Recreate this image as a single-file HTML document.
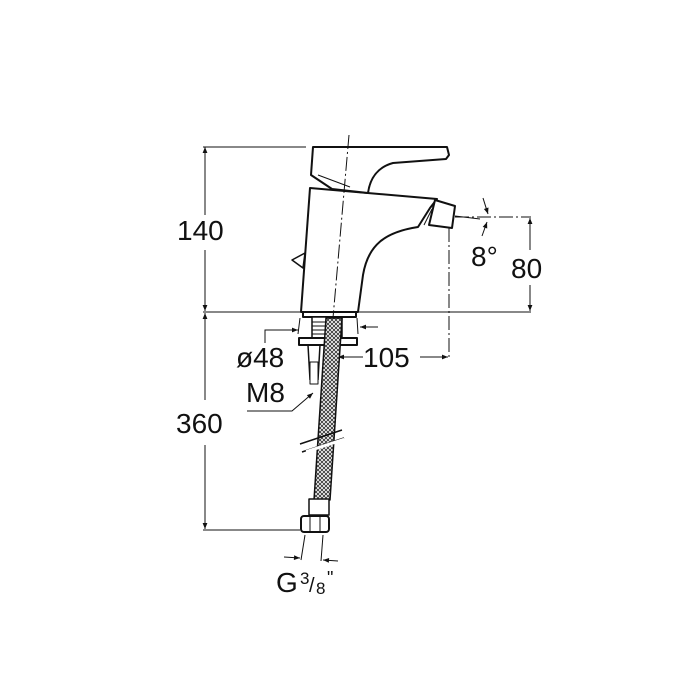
<!DOCTYPE html>
<html><head><style>html,body{margin:0;padding:0;background:#fff}svg{display:block}</style></head>
<body>
<svg width="700" height="700" viewBox="0 0 700 700" xmlns="http://www.w3.org/2000/svg" font-family="Liberation Sans, sans-serif">
<defs>
<pattern id="mesh" width="4" height="4" patternUnits="userSpaceOnUse">
<rect width="4" height="4" fill="#fff"/><path d="M0 0L4 4M4 0L0 4" stroke="#333" stroke-width="0.9"/>
</pattern>
<marker id="ar" viewBox="0 0 10 10" refX="10" refY="5" markerWidth="8" markerHeight="6" orient="auto-start-reverse"><path d="M0 1L10 5L0 9z" fill="#111"/></marker>
</defs>
<g stroke="#111" stroke-width="1" fill="none">
<line x1="203" y1="147" x2="306" y2="147"/>
<line x1="203" y1="312" x2="531" y2="312"/>
<line x1="203" y1="530" x2="300" y2="530"/>
<line x1="205" y1="147" x2="205" y2="215" marker-start="url(#ar)"/>
<line x1="205" y1="250" x2="205" y2="311" marker-end="url(#ar)"/>
<line x1="205" y1="313" x2="205" y2="400" marker-start="url(#ar)"/>
<line x1="205" y1="445" x2="205" y2="529" marker-end="url(#ar)"/>
<line x1="530" y1="218" x2="530" y2="250" marker-start="url(#ar)"/>
<line x1="530" y1="285" x2="530" y2="311" marker-end="url(#ar)"/>
<line x1="455" y1="217" x2="531" y2="217" stroke-dasharray="14,3,2,3"/>
<line x1="449" y1="228" x2="449" y2="358" stroke-dasharray="14,3,2,3"/>
<line x1="455" y1="216" x2="480" y2="219"/>
<line x1="483" y1="198" x2="488" y2="214" marker-end="url(#ar)"/>
<line x1="482" y1="236" x2="487" y2="222" marker-end="url(#ar)"/>
<polyline points="265,343 265,330 298,330" marker-end="url(#ar)"/>
<line x1="300" y1="318" x2="298" y2="334"/>
<line x1="357" y1="318" x2="358" y2="334"/>
<line x1="378" y1="327" x2="360" y2="327" marker-end="url(#ar)"/>
<line x1="363" y1="357" x2="338" y2="357" marker-end="url(#ar)"/>
<line x1="420" y1="357" x2="448" y2="357" marker-end="url(#ar)"/>
<polyline points="247,411 292,411 313,393" marker-end="url(#ar)"/>
<line x1="305" y1="535" x2="301" y2="560"/>
<line x1="323" y1="535" x2="321" y2="561"/>
<line x1="284" y1="557" x2="300" y2="558" marker-end="url(#ar)"/>
<line x1="338" y1="561" x2="323" y2="560" marker-end="url(#ar)"/>
</g>
<g stroke="#111" stroke-width="2" fill="#fff" stroke-linejoin="round">
<path d="M310,188 L437,199 L430,208 L418,227 C385,232 368,245 363,275 L358,312 L301,312 Z"/>
<path d="M435,200 L455,206 L452,228 L429,225 Z"/>
<path d="M432,209 L424,225" stroke-width="1"/>
<path d="M313,147 L447,147 L449,155 L446,159 L393,163 C378,167 370,178 368,193 L332,189 L311,175 Z"/>
<line x1="318" y1="175" x2="350" y2="187" stroke-width="1"/>
<path d="M292,260 L305,253 L303,268 Z" stroke-width="1.5"/>
<rect x="303" y="312" width="53" height="5"/>
<rect x="312" y="317" width="30" height="21" stroke-width="1.5"/>
<path d="M312,322H325M312,326H325M312,330H325M312,334H325" stroke-width="1"/>
<rect x="299" y="338" width="58" height="7"/>
<path d="M308,345 L310,380 M320,345 L318,380" stroke-width="1.5"/>
<rect x="310" y="362" width="8" height="22" stroke-width="1"/>
<path d="M326,318 L342,318 L330,500 L314,500 Z" fill="url(#mesh)" stroke-width="1.5"/>
<path d="M300,444 L342,430 M302,452 L344,438" stroke-width="1.5"/>
<rect x="305" y="444" width="40" height="3" fill="#fff" stroke="none" transform="rotate(-18 325 445)"/>
<rect x="309" y="499" width="20" height="16" stroke-width="1.5"/>
<rect x="301" y="516" width="28" height="16" rx="3"/>
<line x1="310" y1="516" x2="310" y2="532" stroke-width="1"/>
<line x1="320" y1="516" x2="320" y2="532" stroke-width="1"/>
</g>
<line x1="349" y1="135" x2="333" y2="318" stroke="#111" stroke-width="1" stroke-dasharray="14,3,2,3"/>
<g fill="#111" font-size="28">
<text x="177" y="240">140</text>
<text x="176" y="433">360</text>
<text x="511" y="278">80</text>
<text x="471" y="266">8°</text>
<text x="236" y="367">ø48</text>
<text x="363" y="367">105</text>
<text x="246" y="402">M8</text>
<text x="276" y="592">G</text>
<text x="300" y="584" font-size="17">3</text>
<text x="309" y="592" font-size="20">/</text>
<text x="316" y="594" font-size="17">8</text>
<text x="327" y="584" font-size="18">"</text>
</g>
</svg>
</body></html>
